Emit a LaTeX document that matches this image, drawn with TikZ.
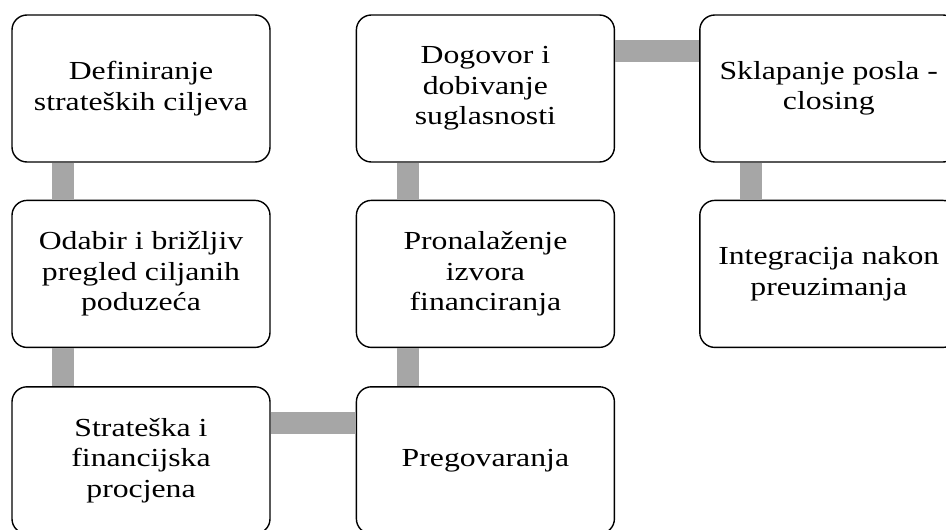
\documentclass[tikz,border=0pt]{standalone}
\usepackage{fontspec}
\setmainfont{Liberation Serif}[FakeStretch=1.22]
\usepackage{tikz}
\usetikzlibrary{positioning}
\usetikzlibrary{calc}
\definecolor{linkgray}{HTML}{A6A6A6}
\tikzset{
    process flow/.style={
            node distance=37pt and 85pt,
            stage/.style={draw,line width=1.4pt,rounded corners=15pt,fill=white,
                minimum width=258pt,minimum height=147pt,align=center,
                inner sep=1pt,font=\fontsize{26}{30.5}\selectfont},
            link/.style={line width=22pt,draw=linkgray}
        }
    }
\begin{document}
\begin{tikzpicture}[process flow]
    \useasboundingbox (0,0) rectangle (946pt,-530pt);
    \node[stage] (goals) at (141pt,-88.5pt) {Definiranje\\strateških ciljeva};
    \node[stage] (review) [below=of goals] {Odabir i brižljiv\\pregled ciljanih\\poduzeća};
    \node[stage] (assess) [below=38pt of review] {Strateška i\\financijska\\procjena};
    \node[stage] (negot) [right=of assess] {Pregovaranja};
    \node[stage] (funds) [right=of review] {Pronalaženje\\izvora\\financiranja};
    \node[stage] (agree) [right=of goals] {Dogovor i\\dobivanje\\suglasnosti};
    \node[stage] (close) [right=84pt of agree] {Sklapanje posla -\\closing};
    \node[stage] (integr) [right=84pt of funds] {Integracija nakon\\preuzimanja};
    \draw [link] ($(goals.south west)!0.2!(goals.south east)$) -- ($(review.north west)!0.2!(review.north east)$);
    \draw [link] ($(review.south west)!0.2!(review.south east)$) -- ($(assess.north west)!0.2!(assess.north east)$);
    \draw [link] ($(assess.north east)!0.25!(assess.south east)$) -- ($(negot.north west)!0.25!(negot.south west)$);
    \draw [link] ($(negot.north west)!0.2!(negot.north east)$) -- ($(funds.south west)!0.2!(funds.south east)$);
    \draw [link] ($(funds.north west)!0.2!(funds.north east)$) -- ($(agree.south west)!0.2!(agree.south east)$);
    \draw [link] ($(agree.north east)!0.25!(agree.south east)$) -- ($(close.north west)!0.25!(close.south west)$);
    \draw [link] ($(close.south west)!0.2!(close.south east)$) -- ($(integr.north west)!0.2!(integr.north east)$);
\end{tikzpicture}
\end{document}
